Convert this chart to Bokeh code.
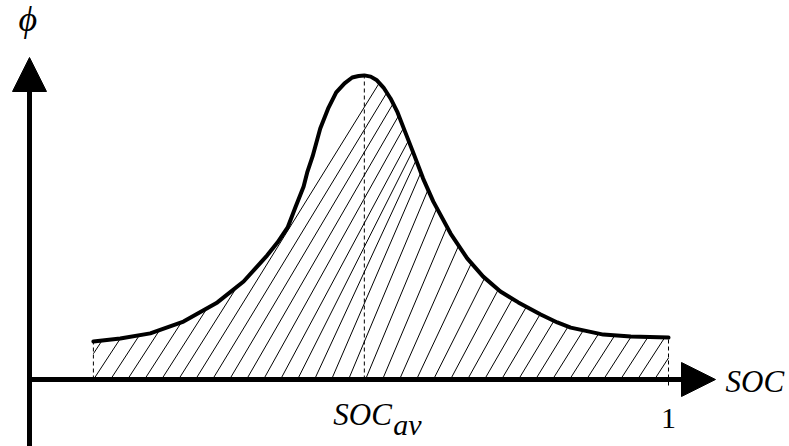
import numpy as np
from bokeh.plotting import figure
from bokeh.models import Range1d, Arrow, NormalHead, Label
from bokeh.embed import file_html
from bokeh.resources import INLINE

# ---- data ----
soc = [0.100, 0.142, 0.189, 0.241, 0.294, 0.335, 0.372, 0.388, 0.404, 0.416,
       0.429, 0.435, 0.443, 0.455, 0.468, 0.480, 0.493, 0.505, 0.515, 0.524,
       0.534, 0.543, 0.554, 0.565, 0.576, 0.588, 0.601, 0.616, 0.632, 0.659,
       0.685, 0.710, 0.737, 0.765, 0.800, 0.826, 0.847, 0.898, 0.941, 1.000]
phi = [0.125, 0.135, 0.152, 0.191, 0.254, 0.323, 0.409, 0.451, 0.501, 0.567,
       0.636, 0.685, 0.735, 0.827, 0.896, 0.946, 0.976, 0.995, 1.000, 1.002,
       0.998, 0.987, 0.962, 0.926, 0.880, 0.815, 0.745, 0.662, 0.586, 0.481,
       0.399, 0.339, 0.290, 0.254, 0.214, 0.188, 0.171, 0.148, 0.142, 0.138]
soc_av = 0.524
tick_value = 1.0
tick_label = "1"
x_label = "SOC"
y_label = "\u03d5"
av_main = "SOC"
av_sub = "av"

# ---- layout constants (pixels per data unit, origin position) ----
PXX, PXY = 639.0, 303.5
OX, OY = 29, 379
W, H = 789, 446

p = figure(width=W, height=H, output_backend="svg", toolbar_location=None,
           x_range=Range1d(-OX / PXX, (W - OX) / PXX),
           y_range=Range1d(-(H - OY) / PXY, OY / PXY),
           x_axis_type=None, y_axis_type=None, min_border=0)
p.grid.visible = False
p.outline_line_color = None
p.background_fill_color = "white"
p.border_fill_color = "white"

sx = np.array(soc)
sy = np.array(phi)
x0, x1 = sx[0], sx[-1]

# ---- hatching under the curve ----
step = 17 / PXX
first = (110 - OX) / PXX
hx0, hy0, hx1, hy1 = [], [], [], []
for k in range(-2, 60):
    xb = first + k * step
    if xb >= x1:
        break
    slope_px = 1.4 + 1.0 * float(np.interp(min(max(xb, x0), x1), sx, sy))
    m = slope_px * PXX / PXY
    xs = max(xb, x0)
    ys = m * (xs - xb)
    if ys >= np.interp(xs, sx, sy):
        continue
    t = np.linspace(xs, x1, 4000)
    yl = m * (t - xb)
    yc = np.interp(t, sx, sy)
    hit = np.nonzero(yl >= yc)[0]
    xe = t[hit[0]] if len(hit) else x1
    hx0.append(xs); hy0.append(ys)
    hx1.append(xe); hy1.append(m * (xe - xb))

p.segment(x0=hx0, y0=hy0, x1=hx1, y1=hy1, line_color="black", line_width=1)

# ---- dashed guide lines ----
imax = int(np.argmax(sy))
p.segment(x0=[x0, soc_av, x1], y0=[0, 0, -6 / PXY],
          x1=[x0, soc_av, x1], y1=[sy[0], sy[imax], sy[-1]],
          line_color="black", line_width=1, line_dash="4 3")

# ---- curve ----
p.line(soc, phi, line_color="black", line_width=4, line_cap="round",
       line_join="round")

# ---- axes with arrows ----
p.add_layout(Arrow(x_start=0, y_start=-0.3, x_end=0, y_end=(OY - 57) / PXY,
                   line_width=5, line_color="black",
                   end=NormalHead(size=34, fill_color="black", line_color="black")))
p.add_layout(Arrow(x_start=-2.5 / PXX, y_start=0, x_end=(715 - OX) / PXX, y_end=0,
                   line_width=5, line_color="black",
                   end=NormalHead(size=34, fill_color="black", line_color="black")))

# ---- texts ----
serif = "'Liberation Serif', 'Times New Roman', Times, serif"


def lab(x, y_px, text, size_px, italic=True, align="left"):
    # y_px: wanted baseline in picture pixels; compensate renderer shift
    yb = y_px - 0.35 * size_px
    p.add_layout(Label(x=x, y=(OY - yb) / PXY, text=text, text_font=serif,
                       text_font_style="italic" if italic else "normal",
                       text_font_size=f"{size_px}px", text_baseline="alphabetic",
                       text_align=align, text_color="black"))


lab((18 - OX) / PXX, 31, y_label, 36)
lab((725 - OX) / PXX, 392, x_label, 31)
lab(tick_value, 428, tick_label, 30, italic=False, align="center")
lab(soc_av - 31 / PXX, 425, av_main, 31)
lab(soc_av + 29 / PXX, 434, av_sub, 30)

open("out.html", "w").write(file_html(p, INLINE))
